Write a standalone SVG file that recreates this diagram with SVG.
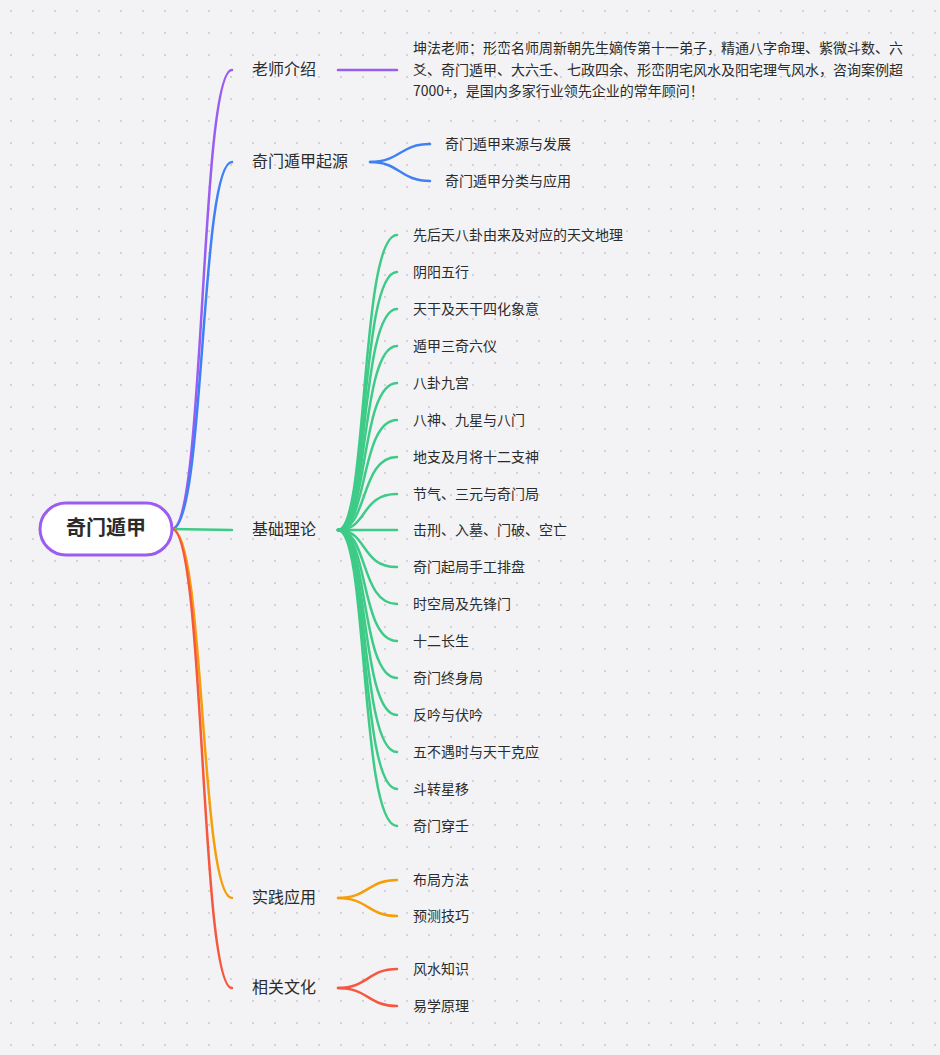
<svg xmlns="http://www.w3.org/2000/svg" width="940" height="1055" viewBox="0 0 940 1055">
<defs>
<pattern id="dots" width="22" height="22" patternUnits="userSpaceOnUse"><circle cx="11" cy="11" r="1" fill="#c9c9cf"/></pattern>
<style>
text{font-family:"Noto Sans CJK SC","Noto Sans",sans-serif;fill:#2b2b2b}
.b{font-size:16px;dominant-baseline:middle}
.c{font-size:14px;dominant-baseline:middle}
path{fill:none;stroke-width:2.5;stroke-linecap:round}
.p{stroke:#9b5cf2}.u{stroke:#3f80f5}.g{stroke:#3ecb88}.o{stroke:#f59e0b}.r{stroke:#f5573f}
</style>
</defs>
<rect width="940" height="1055" fill="#f3f3f5"/>
<rect width="940" height="1055" fill="url(#dots)"/>
<g id="connectors">
<path class="p" d="M172,529 C205,529 200,70 232,70"/>
<path class="p" d="M338,70 L397,70"/>
<path class="u" d="M172,529 C205,529 200,162 232,162"/>
<path class="u" d="M370,162 C400,162 400,144 430,144"/>
<path class="u" d="M370,162 C400,162 400,181 430,181"/>
<path class="g" d="M172,529 L232,530"/>
<path class="o" d="M172,529 C205,529 200,898 232,898"/>
<path class="o" d="M338,898 C368,898 368,880 397,880"/>
<path class="o" d="M338,898 C368,898 368,916 397,916"/>
<path class="r" d="M172,529 C205,529 200,988 232,988"/>
<path class="r" d="M338,988 C368,988 368,969 397,969"/>
<path class="r" d="M338,988 C368,988 368,1006 397,1006"/>
<g class="g">
<path class="g" d="M338,530 C368,530 360,235 397,235"/>
<path class="g" d="M338,530 C368,530 360,272 397,272"/>
<path class="g" d="M338,530 C368,530 360,309 397,309"/>
<path class="g" d="M338,530 C368,530 360,346 397,346"/>
<path class="g" d="M338,530 C368,530 360,383 397,383"/>
<path class="g" d="M338,530 C368,530 360,420 397,420"/>
<path class="g" d="M338,530 C368,530 360,457 397,457"/>
<path class="g" d="M338,530 C368,530 360,494 397,494"/>
<path class="g" d="M338,530 L397,530"/>
<path class="g" d="M338,530 C368,530 360,567 397,567"/>
<path class="g" d="M338,530 C368,530 360,604 397,604"/>
<path class="g" d="M338,530 C368,530 360,641 397,641"/>
<path class="g" d="M338,530 C368,530 360,678 397,678"/>
<path class="g" d="M338,530 C368,530 360,715 397,715"/>
<path class="g" d="M338,530 C368,530 360,752 397,752"/>
<path class="g" d="M338,530 C368,530 360,789 397,789"/>
<path class="g" d="M338,530 C368,530 360,826 397,826"/>
</g>
</g>
<g id="root"><rect x="40" y="503" width="132" height="52" rx="26" fill="#fff" stroke="#9b5cf2" stroke-width="3"/><text x="106" y="530" text-anchor="middle" style="font-size:20px;font-weight:bold;dominant-baseline:middle">奇门遁甲</text></g>
<g id="n1"><text class="b" x="252" y="71">老师介绍</text></g>
<g id="n1a"><text class="c" x="413" y="49">坤法老师：形峦名师周新朝先生嫡传第十一弟子，精通八字命理、紫微斗数、六</text><text class="c" x="413" y="71">爻、奇门遁甲、大六壬、七政四余、形峦阴宅风水及阳宅理气风水，咨询案例超</text><text class="c" x="413" y="92">7000+，是国内多家行业领先企业的常年顾问！</text></g>
<g id="n2"><text class="b" x="252" y="163">奇门遁甲起源</text></g>
<g id="n2a"><text class="c" x="445" y="145">奇门遁甲来源与发展</text></g>
<g id="n2b"><text class="c" x="445" y="182">奇门遁甲分类与应用</text></g>
<g id="n3"><text class="b" x="252" y="531">基础理论</text></g>
<g id="n3c">
<text class="c" x="413" y="236">先后天八卦由来及对应的天文地理</text>
<text class="c" x="413" y="273">阴阳五行</text>
<text class="c" x="413" y="310">天干及天干四化象意</text>
<text class="c" x="413" y="347">遁甲三奇六仪</text>
<text class="c" x="413" y="384">八卦九宫</text>
<text class="c" x="413" y="421">八神、九星与八门</text>
<text class="c" x="413" y="458">地支及月将十二支神</text>
<text class="c" x="413" y="495">节气、三元与奇门局</text>
<text class="c" x="413" y="531">击刑、入墓、门破、空亡</text>
<text class="c" x="413" y="568">奇门起局手工排盘</text>
<text class="c" x="413" y="605">时空局及先锋门</text>
<text class="c" x="413" y="642">十二长生</text>
<text class="c" x="413" y="679">奇门终身局</text>
<text class="c" x="413" y="716">反吟与伏吟</text>
<text class="c" x="413" y="753">五不遇时与天干克应</text>
<text class="c" x="413" y="790">斗转星移</text>
<text class="c" x="413" y="827">奇门穿壬</text>
</g>
<g id="n4"><text class="b" x="252" y="899">实践应用</text></g>
<g id="n4a"><text class="c" x="413" y="881">布局方法</text></g>
<g id="n4b"><text class="c" x="413" y="917">预测技巧</text></g>
<g id="n5"><text class="b" x="252" y="989">相关文化</text></g>
<g id="n5a"><text class="c" x="413" y="970">风水知识</text></g>
<g id="n5b"><text class="c" x="413" y="1007">易学原理</text></g>
</svg>
